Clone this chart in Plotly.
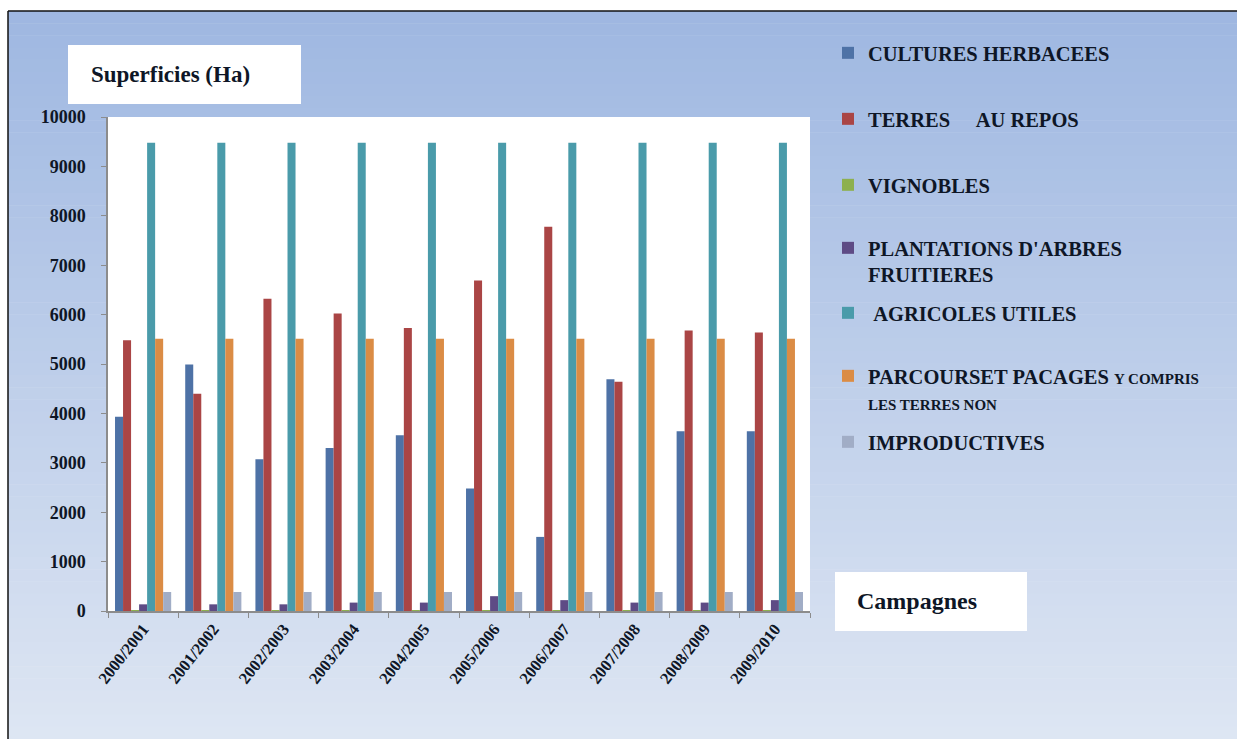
import plotly.graph_objects as go

# ---------------- data ----------------
campagnes = ["2000/2001", "2001/2002", "2002/2003", "2003/2004", "2004/2005",
             "2005/2006", "2006/2007", "2007/2008", "2008/2009", "2009/2010"]

cultures_herbacees = [3930, 4990, 3070, 3300, 3560, 2480, 1500, 4690, 3640, 3640]
terres_au_repos    = [5480, 4400, 6320, 6020, 5730, 6690, 7780, 4640, 5680, 5640]
vignobles          = [15, 15, 15, 15, 15, 15, 15, 15, 15, 15]
plantations        = [135, 135, 135, 170, 170, 300, 220, 170, 170, 220]
agricoles_utiles   = [9480, 9480, 9480, 9480, 9480, 9480, 9480, 9480, 9480, 9480]
parcours_pacages   = [5510, 5510, 5510, 5510, 5510, 5510, 5510, 5510, 5510, 5510]
improductives      = [385, 385, 385, 385, 385, 385, 385, 385, 385, 385]

series_names = [
    "CULTURES HERBACEES",
    "TERRES\u00a0\u00a0\u00a0\u00a0\u00a0AU REPOS",
    "VIGNOBLES",
    "PLANTATIONS D'ARBRES<br>FRUITIERES",
    "\u00a0AGRICOLES UTILES",
    "PARCOURSET PACAGES <span style='font-size:15px'>Y COMPRIS</span><br><span style='font-size:15px'>LES TERRES NON</span>",
    "IMPRODUCTIVES",
]
series_values = [cultures_herbacees, terres_au_repos, vignobles, plantations,
                 agricoles_utiles, parcours_pacages, improductives]
series_colors = ["#4E72A6", "#AA4545", "#8DB04F", "#5E4B85",
                 "#4A9BAA", "#DB8C45", "#A1ADC6"]

y_ticks = list(range(0, 10001, 1000))

# ---------------- layout geometry ----------------
W, H = 1237, 739
L, R, T, B = 108, 810, 117, 611          # plot area in px
PW, PH = R - L, B - T

def px_x(p):
    return (p - L) / PW

def px_y(p):
    return (B - p) / PH

FONT = "Liberation Serif"
TXT = "#0E1626"

fig = go.Figure()

legend_first_line = [49, 115, 181, 244, 309, 372, 438]
legend_keys = ["legend"] + [f"legend{i}" for i in range(2, 8)]

for name, vals, col, lk in zip(series_names, series_values, series_colors, legend_keys):
    fig.add_trace(go.Bar(
        x=campagnes, y=vals, name=name,
        marker=dict(color=col, line=dict(width=0)),
        legend=lk,
    ))

# ---------------- background shapes ----------------
shapes = []
top_c = (0x9E, 0xB7, 0xE1)
bot_c = (0xDE, 0xE6, 0xF3)
y0, y1 = 11, H
n = 60
for i in range(n):
    a = y0 + (y1 - y0) * i / n
    b = y0 + (y1 - y0) * (i + 1) / n
    t = (i + 0.5) / n
    c = tuple(int(round(top_c[k] + (bot_c[k] - top_c[k]) * t)) for k in range(3))
    shapes.append(dict(type="rect", xref="paper", yref="paper", layer="below",
                       x0=px_x(8), x1=px_x(W + 2), y0=px_y(b + 0.5), y1=px_y(a),
                       fillcolor="rgb(%d,%d,%d)" % c, line=dict(width=0)))
# outer border (top & left)
shapes.append(dict(type="line", xref="paper", yref="paper", layer="below",
                   x0=px_x(8), x1=px_x(W + 2), y0=px_y(11), y1=px_y(11),
                   line=dict(color="#111111", width=1.5)))
shapes.append(dict(type="line", xref="paper", yref="paper", layer="below",
                   x0=px_x(8), x1=px_x(8), y0=px_y(11), y1=px_y(H + 2),
                   line=dict(color="#111111", width=1.5)))
# white plot area
shapes.append(dict(type="rect", xref="paper", yref="paper", layer="below",
                   x0=0, x1=1, y0=0, y1=1, fillcolor="white", line=dict(width=0)))
# white text boxes
shapes.append(dict(type="rect", xref="paper", yref="paper", layer="below",
                   x0=px_x(68), x1=px_x(301), y0=px_y(104), y1=px_y(45),
                   fillcolor="white", line=dict(width=0)))
shapes.append(dict(type="rect", xref="paper", yref="paper", layer="below",
                   x0=px_x(835), x1=px_x(1027), y0=px_y(631), y1=px_y(572),
                   fillcolor="white", line=dict(width=0)))

annotations = [
    dict(text="Superficies (Ha)", xref="paper", yref="paper",
         x=px_x(89), y=px_y(75), xanchor="left", yanchor="middle", showarrow=False,
         font=dict(family=FONT, size=23, color=TXT, weight="bold")),
    dict(text="Campagnes", xref="paper", yref="paper",
         x=px_x(855), y=px_y(601), xanchor="left", yanchor="middle", showarrow=False,
         font=dict(family=FONT, size=24, color=TXT, weight="bold")),
]

layout_legends = {}
for lk, yc in zip(legend_keys, legend_first_line):
    layout_legends[lk] = dict(
        x=px_x(828), y=px_y(yc - 16), xanchor="left", yanchor="top",
        bgcolor="rgba(0,0,0,0)", borderwidth=0, valign="top",
        font=dict(family=FONT, size=20.5, color=TXT, weight="bold"),
    )

fig.update_layout(
    width=W, height=H,
    margin=dict(l=L, r=W - R, t=T, b=H - B, pad=0),
    paper_bgcolor="white",
    plot_bgcolor="rgba(0,0,0,0)",
    barmode="group", bargap=0.2, bargroupgap=0,
    showlegend=True,
    shapes=shapes,
    annotations=annotations,
    **layout_legends,
)

fig.update_xaxes(
    type="category", tickangle=-52, showgrid=False,
    showline=True, linecolor="#8C8C8C", linewidth=1.5,
    ticks="outside", ticklen=5, tickcolor="#8C8C8C", tickson="boundaries",
    tickfont=dict(family=FONT, size=16.5, color=TXT, weight="bold"),
)
fig.update_yaxes(
    range=[0, 10000], tickvals=y_ticks, ticktext=[str(v) for v in y_ticks],
    showgrid=False, zeroline=False,
    showline=True, linecolor="#8C8C8C", linewidth=1.5,
    ticks="outside", ticklen=5, tickcolor="#8C8C8C",
    ticklabelstandoff=12,
    tickfont=dict(family=FONT, size=18, color=TXT, weight="bold"),
)

fig.write_html("out.html")
